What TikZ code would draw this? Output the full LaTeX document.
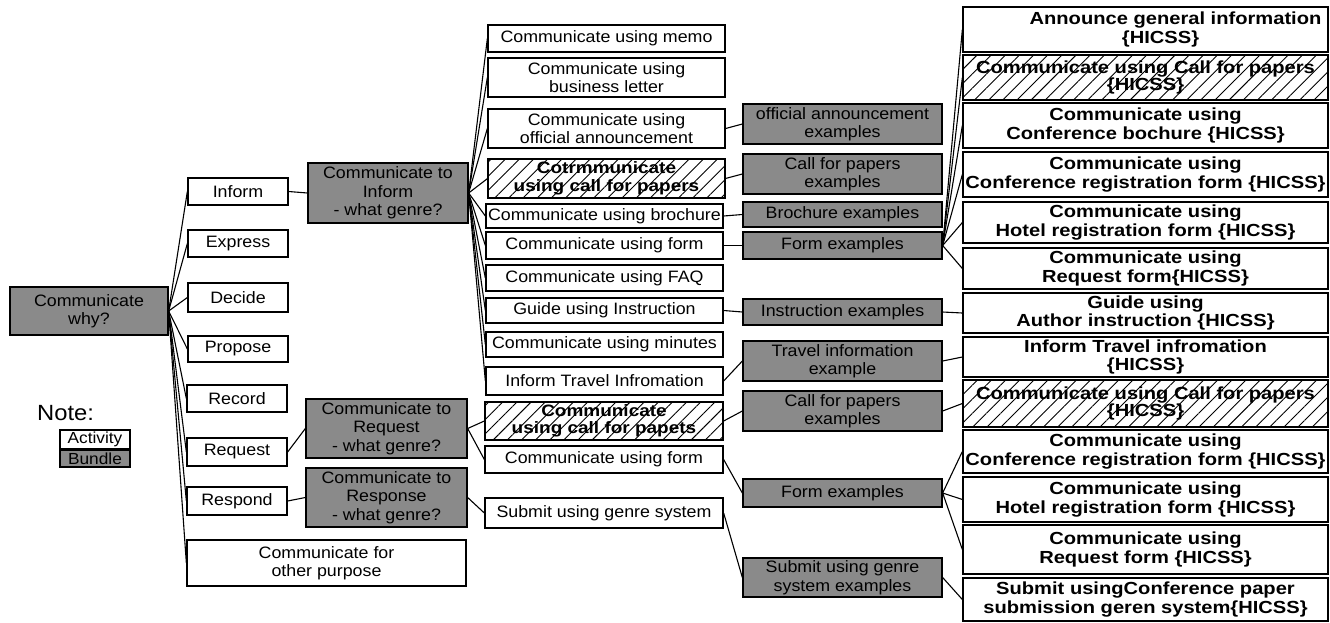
\documentclass[tikz,border=0pt]{standalone}
\usepackage{fontspec}
\setmainfont{Liberation Sans}
\newfontfamily\regf{Liberation Sans}[FakeStretch=1.08]
\newfontfamily\boldf{Liberation Sans}[FakeStretch=1.15]
\usetikzlibrary{patterns.meta}
\definecolor{bundlegray}{RGB}{138,138,138}
\newcommand\mkbox[7]{\node[#6, minimum width={#4-#2}, minimum height={#5-#3}] (#1) at ({(#2+#4)/2},{(#3+#5)/2}) {#7};}
\tikzset{
  base/.style={draw=black, line width=1.3pt, inner sep=1pt, align=center},
  activity/.style={base, fill=white, font=\regf\fontsize{16.5}{18.5}\selectfont},
  bundle/.style={base, fill=bundlegray, font=\regf\fontsize{16.5}{18.5}\selectfont},
  hatchbox/.style={base, pattern={Lines[angle=45,distance=10pt,line width=0.9pt]}, font=\boldf\bfseries\fontsize{16.5}{17.5}\selectfont},
  result/.style={base, fill=white, font=\boldf\bfseries\fontsize{17.5}{18.5}\selectfont},
  hatchres/.style={base, pattern={Lines[angle=45,distance=10pt,line width=0.9pt]}, font=\boldf\bfseries\fontsize{17.5}{17}\selectfont},
  legendbox/.style={draw=black, line width=1.1pt, inner sep=0.5pt, font=\regf\fontsize{16}{16}\selectfont},
  link/.style={draw=black, line width=1.1pt},
}
\begin{document}
\begin{tikzpicture}[x=1pt,y=-1pt]
\useasboundingbox (0,0) rectangle (1330,622);
% root
\mkbox{root}{10}{287}{168}{335}{bundle}{Communicate\\why?}
% level 1
\mkbox{inform}{188}{178}{288}{205}{activity}{Inform}
\mkbox{express}{188}{230}{288}{257}{activity}{Express}
\mkbox{decide}{188}{283}{288}{312}{activity}{Decide}
\mkbox{propose}{188}{336}{288}{362}{activity}{Propose}
\mkbox{record}{187}{385}{287}{412}{activity}{Record}
\mkbox{request}{187}{438}{287}{466}{activity}{Request}
\mkbox{respond}{187}{487}{287}{515}{activity}{Respond}
\mkbox{other}{187}{540}{466}{586}{activity}{Communicate for\\other purpose}
% level 2 bundles
\mkbox{ci}{308}{163}{468}{223}{bundle}{Communicate to\\Inform\\- what genre?}
\mkbox{cr}{306}{399}{467}{458}{bundle}{Communicate to\\Request\\- what genre?}
\mkbox{cresp}{306}{468}{467}{527}{bundle}{Communicate to\\Response\\- what genre?}
% level 3
\mkbox{memo}{488}{25}{725}{52}{activity}{Communicate using memo}
\mkbox{letter}{488}{58}{725}{97}{activity}{Communicate using\\business letter}
\mkbox{official}{488}{109}{725}{148}{activity}{Communicate using\\official announcement}
\mkbox{hatch1}{488}{159}{725}{198}{hatchbox}{Cotrmmunicate\\using call for papers}
\mkbox{brochure}{486}{204}{723}{228}{activity}{Communicate using brochure}
\mkbox{form1}{486}{232}{723}{259}{activity}{Communicate using form}
\mkbox{faq}{486}{265}{723}{291}{activity}{Communicate using FAQ}
\mkbox{guide}{486}{298}{723}{323}{activity}{Guide using Instruction}
\mkbox{minutes}{486}{332}{723}{357}{activity}{Communicate using minutes}
\mkbox{travel}{486}{367}{723}{395}{activity}{Inform Travel Infromation}
\mkbox{hatch2}{485}{402}{723}{440}{hatchbox}{Communicate\\using call for papets}
\mkbox{form2}{485}{446}{723}{473}{activity}{Communicate using form}
\mkbox{submit}{485}{498}{723}{528}{activity}{Submit using genre system}
% level 4 bundles
\mkbox{oae}{743}{104}{942}{144}{bundle}{official announcement\\examples}
\mkbox{cpe}{743}{154}{942}{194}{bundle}{Call for papers\\examples}
\mkbox{be}{743}{202}{942}{227}{bundle}{Brochure examples}
\mkbox{fe}{743}{232}{942}{259}{bundle}{Form examples}
\mkbox{ie}{743}{299}{942}{325}{bundle}{Instruction examples}
\mkbox{tie}{743}{341}{942}{381}{bundle}{Travel information\\example}
\mkbox{cpe2}{743}{391}{942}{431}{bundle}{Call for papers\\examples}
\mkbox{fe2}{743}{479}{942}{507}{bundle}{Form examples}
\mkbox{se}{743}{558}{942}{597}{bundle}{Submit using genre\\system examples}
% level 5
\mkbox{r1}{963}{7}{1328}{52}{result}{\hspace*{60pt}Announce general information\\\hspace*{30pt}\{HICSS\}}
\mkbox{r2}{963}{55}{1328}{100}{hatchres}{Communicate using Call for papers\\\{HICSS\}}
\mkbox{r3}{963}{103}{1328}{148}{result}{Communicate using\\Conference bochure \{HICSS\}}
\mkbox{r4}{963}{152}{1328}{197}{result}{Communicate using\\Conference registration form \{HICSS\}}
\mkbox{r5}{963}{202}{1328}{243}{result}{Communicate using\\Hotel registration form \{HICSS\}}
\mkbox{r6}{963}{248}{1328}{289}{result}{Communicate using\\Request form\{HICSS\}}
\mkbox{r7}{963}{293}{1328}{333}{result}{Guide using\\Author instruction \{HICSS\}}
\mkbox{r8}{963}{337}{1328}{377}{result}{Inform Travel infromation\\\{HICSS\}}
\mkbox{r9}{963}{380}{1328}{427}{hatchres}{Communicate using Call for papers\\\{HICSS\}}
\mkbox{r10}{963}{430}{1328}{473}{result}{Communicate using\\Conference registration form \{HICSS\}}
\mkbox{r11}{963}{477}{1328}{522}{result}{Communicate using\\Hotel registration form \{HICSS\}}
\mkbox{r12}{963}{525}{1328}{574}{result}{Communicate using\\Request form \{HICSS\}}
\mkbox{r13}{963}{578}{1328}{621}{result}{Submit usingConference paper\\submission geren system\{HICSS\}}
% legend
\node[font=\regf\fontsize{22}{24}\selectfont, anchor=west, inner sep=0pt] (note) at (37,413) {Note:};
\mkbox{lact}{60}{430}{130}{449}{legendbox,fill=white}{Activity}
\mkbox{lbun}{60}{450}{130}{467}{legendbox,fill=bundlegray}{Bundle}
% connectors
\foreach \c in {inform,express,decide,propose,record,request,respond,other}
  \draw[link] (root.east) -- (\c.west);
\draw[link] (inform.east) -- (ci.west);
\draw[link] (request.east) -- (cr.west);
\draw[link] (respond.east) -- (cresp.west);
\foreach \c in {memo,letter,official,hatch1,brochure,form1,faq,guide,minutes,travel}
  \draw[link] (ci.east) -- (\c.west);
\draw[link] (cr.east) -- (hatch2.west);
\draw[link] (cr.east) -- (form2.west);
\draw[link] (cresp.east) -- (submit.west);
\draw[link] (official.east) -- (oae.west);
\draw[link] (hatch1.east) -- (cpe.west);
\draw[link] (brochure.east) -- (be.west);
\draw[link] (form1.east) -- (fe.west);
\draw[link] (guide.east) -- (ie.west);
\draw[link] (travel.east) -- (tie.west);
\draw[link] (hatch2.east) -- (cpe2.west);
\draw[link] (form2.east) -- (fe2.west);
\draw[link] (submit.east) -- (se.west);
\foreach \c in {r1,r2,r3,r4,r5,r6}
  \draw[link] (fe.east) -- (\c.west);
\draw[link] (ie.east) -- (r7.west);
\draw[link] (tie.east) -- (r8.west);
\draw[link] (cpe2.east) -- (r9.west);
\foreach \c in {r10,r11,r12}
  \draw[link] (fe2.east) -- (\c.west);
\draw[link] (se.east) -- (r13.west);
\end{tikzpicture}
\end{document}
